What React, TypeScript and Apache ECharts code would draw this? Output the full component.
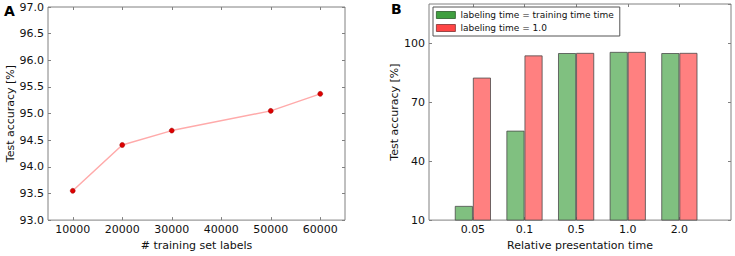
import React, { useEffect, useRef } from "react";
import * as echarts from "echarts";

const trainLabels = [10000, 20000, 30000, 50000, 60000];
const accuracyA = [93.55, 94.41, 94.68, 95.05, 95.37];
const xTicksA = [10000, 20000, 30000, 40000, 50000, 60000];

const categoriesB = ["0.05", "0.1", "0.5", "1.0", "2.0"];
const greenB = [17.2, 55.5, 95.0, 95.6, 95.0];
const redB = [82.5, 93.8, 95.1, 95.6, 95.1];
const seriesNamesB = ["labeling time = training time time", "labeling time = 1.0"];

const FONT = "DejaVu Sans";
const AX = "#808080";

export default function App() {
  const ref = useRef<HTMLDivElement>(null);
  useEffect(() => {
    document.body.style.margin = "0";
    const chart = echarts.init(ref.current!, null, { renderer: "svg" });
    const catIdx = categoriesB.map((_, i) => i);
    const tick = { show: true, inside: true, length: 3, lineStyle: { color: AX } };
    const line = { show: false, onZero: false };
    const lbl = { fontFamily: FONT, fontSize: 11, color: "#111" };
    const nameStyle = { fontFamily: FONT, fontSize: 11, color: "#111" };
    chart.setOption({
      animation: false,
      textStyle: { fontFamily: FONT },
      grid: [
        { left: 48, top: 7, width: 297, height: 222, show: true, borderColor: AX, borderWidth: 1 },
        { left: 429, top: 4, width: 302, height: 225, show: true, borderColor: AX, borderWidth: 1 },
      ],
      xAxis: [
        {
          type: "value", gridIndex: 0, min: 5000, max: 65000, position: "bottom",
          axisLine: line, splitLine: { show: false },
          axisTick: { ...tick, customValues: xTicksA },
          axisLabel: { ...lbl, margin: 4, customValues: xTicksA, formatter: (v: number) => String(v) },
          name: "# training set labels", nameLocation: "middle", nameGap: 13, nameTextStyle: nameStyle,
        },
        {
          type: "value", gridIndex: 0, min: 5000, max: 65000, position: "top",
          axisLine: line, splitLine: { show: false },
          axisTick: { ...tick, customValues: xTicksA },
          axisLabel: { show: false },
        },
        {
          type: "value", gridIndex: 1, min: -0.85, max: 5.0, position: "bottom",
          axisLine: line, splitLine: { show: false },
          axisTick: { ...tick, customValues: catIdx },
          axisLabel: { ...lbl, margin: 4, customValues: catIdx, formatter: (v: number) => categoriesB[Math.round(v)] ?? "" },
          name: "Relative presentation time", nameLocation: "middle", nameGap: 13, nameTextStyle: nameStyle,
        },
        {
          type: "value", gridIndex: 1, min: -0.85, max: 5.0, position: "top",
          axisLine: line, splitLine: { show: false },
          axisTick: { ...tick, customValues: catIdx },
          axisLabel: { show: false },
        },
      ],
      yAxis: [
        {
          type: "value", gridIndex: 0, min: 93, max: 97, interval: 0.5, position: "left",
          axisLine: line, splitLine: { show: false }, axisTick: tick,
          axisLabel: { ...lbl, margin: 4, formatter: (v: number) => v.toFixed(1) },
          name: "Test accuracy [%]", nameLocation: "middle", nameGap: 30, nameTextStyle: nameStyle,
        },
        {
          type: "value", gridIndex: 0, min: 93, max: 97, interval: 0.5, position: "right",
          axisLine: line, splitLine: { show: false }, axisTick: tick,
          axisLabel: { show: false },
        },
        {
          type: "value", gridIndex: 1, min: 10, max: 120, interval: 30, position: "left",
          axisLine: line, splitLine: { show: false }, axisTick: tick,
          axisLabel: { ...lbl, margin: 4, showMaxLabel: false },
          name: "Test accuracy [%]", nameLocation: "middle", nameGap: 25, nameTextStyle: nameStyle,
        },
        {
          type: "value", gridIndex: 1, min: 10, max: 120, interval: 30, position: "right",
          axisLine: line, splitLine: { show: false }, axisTick: tick,
          axisLabel: { show: false },
        },
      ],
      legend: {
        left: 433, top: 7, orient: "vertical",
        backgroundColor: "#fff", borderColor: "#555", borderWidth: 1,
        padding: [3, 6, 3, 3], itemGap: 3, itemWidth: 19, itemHeight: 7,
        textStyle: { fontFamily: FONT, fontSize: 9, color: "#111", lineHeight: 10 },
        data: [
          { name: seriesNamesB[0], icon: "rect", itemStyle: { color: "#3f9f3f", borderColor: "#2a5a2a", borderWidth: 0.8 } },
          { name: seriesNamesB[1], icon: "rect", itemStyle: { color: "#ff4545", borderColor: "#803030", borderWidth: 0.8 } },
        ],
      },
      graphic: [
        { type: "text", left: 4, top: 4, style: { text: "A", fontFamily: FONT, fontSize: 14, fontWeight: "bold", fill: "#000" } },
        { type: "text", left: 391, top: 2, style: { text: "B", fontFamily: FONT, fontSize: 14, fontWeight: "bold", fill: "#000" } },
      ],
      series: [
        {
          type: "line", xAxisIndex: 0, yAxisIndex: 0,
          data: trainLabels.map((x, i) => [x, accuracyA[i]]),
          lineStyle: { color: "#ffaaaa", width: 1.5 },
          symbol: "circle", symbolSize: 5,
          itemStyle: { color: "#dd0000", borderColor: "#990000", borderWidth: 0.5 },
        },
        {
          name: seriesNamesB[0], type: "bar", xAxisIndex: 2, yAxisIndex: 2,
          data: greenB.map((v, i) => [i - 0.175, v]),
          barWidth: 18, barGap: "-100%",
          itemStyle: { color: "#80c080", borderColor: "#4a4a4a", borderWidth: 0.8 },
        },
        {
          name: seriesNamesB[1], type: "bar", xAxisIndex: 2, yAxisIndex: 2,
          data: redB.map((v, i) => [i + 0.175, v]),
          barWidth: 18, barGap: "-100%",
          itemStyle: { color: "#ff8080", borderColor: "#4a4a4a", borderWidth: 0.8 },
        },
      ],
    });
    return () => chart.dispose();
  }, []);
  return <div ref={ref} style={{ width: 735, height: 256 }} />;
}
